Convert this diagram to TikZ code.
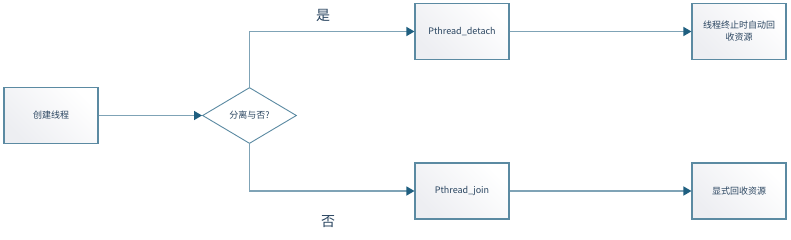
\documentclass[tikz,border=0pt]{standalone}
\usepackage{fontspec}
\newfontfamily\cjk{Noto Sans CJK SC}
\usetikzlibrary{arrows.meta,shapes.geometric}
\definecolor{lineC}{HTML}{7FA3B6}
\definecolor{borderC}{HTML}{5B8AA2}
\definecolor{tipC}{HTML}{1F5F80}
\definecolor{textC}{HTML}{2A4560}
\definecolor{fillA}{HTML}{EDEEF2}
\tikzset{
  procbox/.style={draw=borderC, line width=1.1pt, top color=fillA, bottom color=white,
    shading angle=135, minimum width=94pt, minimum height=56pt, inner sep=2pt,
    text width=86pt, align=center, font=\cjk\fontsize{9}{12}\selectfont, text=textC},
  decide/.style={diamond, draw=borderC, line width=0.9pt, fill=white, aspect=1.7,
    minimum width=94pt, minimum height=56pt, inner sep=0pt,
    font=\cjk\fontsize{9}{11}\selectfont, text=textC},
  conn/.style={draw=lineC, line width=1.3pt, -{Triangle[length=8pt,width=9pt,fill=tipC,color=tipC]}},
  branchlbl/.style={font=\cjk\fontsize{14}{16}\selectfont, text=textC}
}
\begin{document}
\begin{tikzpicture}[x=1pt,y=-1pt]
\useasboundingbox (0,0) rectangle (791,239);
\node[procbox] (create) at (51,115.5) {创建线程};
\node[decide] (dec) at (249.5,115.5) {分离与否?};
\node[procbox] (detach) at (462,31.5) {Pthread\_detach};
\node[procbox] (join) at (462,191) {Pthread\_join};
\node[procbox] (auto) at (739,31.5) {线程终止时自动回\\收资源};
\node[procbox] (expl) at (739,191) {显式回收资源};
\draw[conn] (create) -- (dec);
\draw[conn] (dec.north) |- (detach.west);
\draw[conn] (dec.south) |- (join.west);
\draw[conn] (detach) -- (auto);
\draw[conn] (join) -- (expl);
\node[branchlbl] (yes) at (323,15) {是};
\node[branchlbl] (no) at (328,222) {否};
\end{tikzpicture}
\end{document}
